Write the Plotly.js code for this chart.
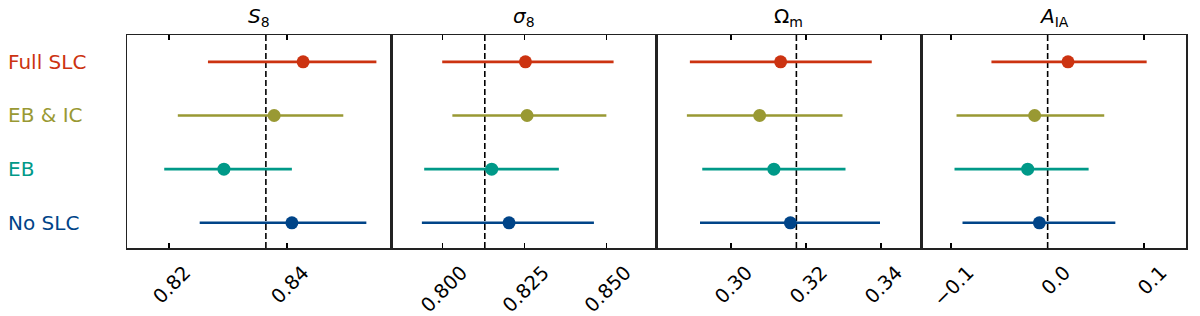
<!DOCTYPE html>
<html>
<head>
<meta charset="utf-8">
<script src="https://cdn.plot.ly/plotly-3.0.1.min.js"></script>
<style>html,body{margin:0;padding:0;background:#fff;}</style>
</head>
<body>
<div id="chart" style="width:1200px;height:316px;"></div>
<script>
// Rows (top to bottom)
const labels = ["Full SLC", "EB &amp; IC", "EB", "No SLC"];
const colors = ["#CC3311", "#999933", "#009988", "#004488"];
const rowPos = [0, 1, 2, 3];

// Panel titles
const titles = ["<i>S</i><sub>8</sub>", "<i>σ</i><sub>8</sub>", "Ω<sub>m</sub>", "<i>A</i><sub>IA</sub>"];

// S8: lower, best, upper
const s8Lo   = [0.8266, 0.8215, 0.8192, 0.8252];
const s8Mid  = [0.8427, 0.8378, 0.8293, 0.8408];
const s8Hi   = [0.8551, 0.8495, 0.8408, 0.8534];
// sigma8
const sig8Lo  = [0.7999, 0.8030, 0.7944, 0.7937];
const sig8Mid = [0.8253, 0.8258, 0.8150, 0.8203];
const sig8Hi  = [0.8522, 0.8500, 0.8355, 0.8462];
// Omega_m
const omLo  = [0.2891, 0.2883, 0.2924, 0.2918];
const omMid = [0.3133, 0.3077, 0.3115, 0.3159];
const omHi  = [0.3376, 0.3298, 0.3306, 0.3398];
// A_IA
const aiaLo  = [-0.0583, -0.0945, -0.0966, -0.0883];
const aiaMid = [0.0211, -0.0135, -0.0207, -0.0086];
const aiaHi  = [0.1027, 0.0587, 0.0425, 0.0702];

// Reference (dashed) values
const refVals = [0.8364, 0.8129, 0.3175, 0.0];

// Axis ranges and ticks
const ranges = [[0.8129, 0.8577], [0.7845, 0.8653], [0.2802, 0.3508], [-0.1311, 0.1435]];
const tickVals = [[0.82, 0.84], [0.800, 0.825, 0.850], [0.30, 0.32, 0.34], [-0.1, 0.0, 0.1]];
const tickText = [["0.82", "0.84"], ["0.800", "0.825", "0.850"], ["0.30", "0.32", "0.34"], ["−0.1", "0.0", "0.1"]];
const tickShift = [16, 19, 16, 17];

const panels = [
  [s8Lo, s8Mid, s8Hi],
  [sig8Lo, sig8Mid, sig8Hi],
  [omLo, omMid, omHi],
  [aiaLo, aiaMid, aiaHi]
];

const data = [];
const layout = {
  width: 1200, height: 316,
  margin: {l: 127, r: 14, t: 35, b: 68},
  paper_bgcolor: "#fff", plot_bgcolor: "#fff",
  showlegend: false,
  font: {family: "DejaVu Sans", size: 19.5, color: "#000"},
  shapes: [], annotations: []
};

panels.forEach((p, k) => {
  const [lo, mid, hi] = p;
  const xa = k === 0 ? "x" : "x" + (k + 1);
  const ya = k === 0 ? "y" : "y" + (k + 1);
  const xKey = k === 0 ? "xaxis" : "xaxis" + (k + 1);
  const yKey = k === 0 ? "yaxis" : "yaxis" + (k + 1);
  for (let i = 0; i < lo.length; i++) {
    data.push({
      type: "scatter", mode: "markers",
      x: [mid[i]], y: [rowPos[i]],
      xaxis: xa, yaxis: ya,
      marker: {color: colors[i], size: 13},
      error_x: {type: "data", symmetric: false, array: [hi[i] - mid[i]], arrayminus: [mid[i] - lo[i]],
                color: colors[i], thickness: 2.6, width: 0},
      hoverinfo: "x"
    });
  }
  layout[xKey] = {
    domain: [k * 0.25, (k + 1) * 0.25], anchor: ya,
    range: ranges[k], tickmode: "array", tickvals: tickVals[k], ticktext: tickText[k],
    tickangle: -45, ticks: "inside", ticklen: 5, tickwidth: 1.5, tickcolor: "#000",
    showline: true, mirror: "ticks", linecolor: "#222", linewidth: 1.5,
    showgrid: false, zeroline: false,
    tickfont: {family: "DejaVu Sans", size: 19.5, color: "#000"},
    ticklabelstandoff: 4, ticklabelshift: tickShift[k]
  };
  layout[yKey] = {
    domain: [0, 1], anchor: xa,
    range: [3.47, -0.5], showticklabels: false, ticks: "",
    showline: true, mirror: true, linecolor: "#222", linewidth: 1.5,
    showgrid: false, zeroline: false
  };
  layout.shapes.push({
    type: "line", xref: xa, yref: ya + " domain",
    x0: refVals[k], x1: refVals[k], y0: 0, y1: 1,
    line: {color: "#000", width: 1.6, dash: "6px,3px"}, layer: "below"
  });
  layout.annotations.push({
    text: titles[k], xref: "paper", yref: "paper",
    x: k * 0.25 + 0.125, y: 1, xanchor: "center", yanchor: "bottom", yshift: 3,
    showarrow: false, font: {family: "DejaVu Sans", size: 20, color: "#000"}
  });
});

labels.forEach((lab, i) => {
  layout.annotations.push({
    text: lab, xref: "paper", yref: "y",
    x: -121 / 1059, y: rowPos[i], xanchor: "left", yanchor: "middle",
    showarrow: false, font: {family: "DejaVu Sans", size: 20, color: colors[i]}
  });
});

Plotly.newPlot("chart", data, layout, {staticPlot: true});
</script>
</body>
</html>
